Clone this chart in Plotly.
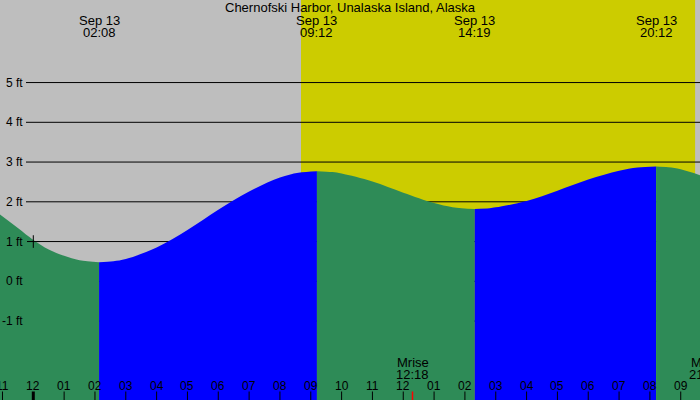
import plotly.graph_objects as go

# ---------------- data ----------------
title_text = "Chernofski Harbor, Unalaska Island, Alaska"

# visible window, hours after midnight of Sep 13, and feet
x_min, x_max = -1.08, 21.625
y_min, y_max = -2.986, 7.077

# tide curve, split at the extremes (hours, feet)
seg_falling_1_t = [-1.08, -0.5, 0.0, 0.5, 1.0, 1.5, 2.133]
seg_falling_1_v = [1.68, 1.34, 1.04, 0.80, 0.64, 0.53, 0.48]
seg_rising_1_t = [2.133, 2.6, 3.0, 4.0, 5.0, 6.0, 7.0, 8.0, 8.6, 9.2]
seg_rising_1_v = [0.48, 0.505, 0.56, 0.85, 1.29, 1.80, 2.26, 2.61, 2.73, 2.77]
seg_falling_2_t = [9.2, 9.7, 10.0, 11.0, 12.0, 13.0, 13.6, 14.317]
seg_falling_2_v = [2.77, 2.748, 2.71, 2.51, 2.23, 1.97, 1.865, 1.82]
seg_rising_2_t = [14.317, 14.8, 15.0, 16.0, 17.0, 18.0, 19.0, 19.6, 20.2]
seg_rising_2_v = [1.82, 1.838, 1.86, 2.02, 2.28, 2.56, 2.78, 2.863, 2.89]
seg_falling_3_t = [20.2, 20.6, 21.0, 21.625]
seg_falling_3_v = [2.89, 2.87, 2.82, 2.67]

# tide extremes labels
extreme_t = [2.133, 9.2, 14.317, 20.2]
extreme_date = ["Sep 13", "Sep 13", "Sep 13", "Sep 13"]
extreme_time = ["02:08", "09:12", "14:19", "20:12"]

# sun (day period)
sunrise_t = 8.683
sunset_t = 21.473

# moon events
moon_t = [12.3, 21.8]
moon_label = ["Mrise", "Mset"]
moon_time = ["12:18", "21:48"]

# hour ticks
hour_t = list(range(-1, 22))
hour_labels = ["11", "12", "01", "02", "03", "04", "05", "06", "07", "08", "09", "10",
               "11", "12", "01", "02", "03", "04", "05", "06", "07", "08", "09"]

# horizontal reference levels
level_ft = [-1, 0, 1, 2, 3, 4, 5]
level_labels = ["-1 ft", "0 ft", "1 ft", "2 ft", "3 ft", "4 ft", "5 ft"]

# marker
mark_t = [0.0]
mark_v = [1.0]

# ---------------- styles ----------------
W, H = 700, 400
NIGHT = "#BEBEBE"
DAY = "#CCCC00"
FALL = "#2E8B57"
RISE = "#0000FF"
FONT = "Liberation Sans, Arial, sans-serif"


def px(h):
    return (h - x_min) / (x_max - x_min)


def py(pix):
    return 1 - pix / H


fig = go.Figure()

segments = [
    (seg_falling_1_t, seg_falling_1_v, FALL),
    (seg_rising_1_t, seg_rising_1_v, RISE),
    (seg_falling_2_t, seg_falling_2_v, FALL),
    (seg_rising_2_t, seg_rising_2_v, RISE),
    (seg_falling_3_t, seg_falling_3_v, FALL),
]
for t, v, col in segments:
    fig.add_trace(go.Scatter(x=[t[0], t[-1]], y=[y_min - 1, y_min - 1], mode="lines",
                             line=dict(width=0, color=col), hoverinfo="skip", showlegend=False))
    fig.add_trace(go.Scatter(x=t, y=v, mode="lines", line=dict(width=0, color=col, shape="spline"),
                             fill="tonexty", fillcolor=col, hoverinfo="skip", showlegend=False))

fig.add_trace(go.Scatter(x=mark_t, y=mark_v, mode="markers",
                         marker=dict(symbol="cross-thin", size=9, line=dict(width=1, color="black")),
                         hoverinfo="skip", showlegend=False))

shapes = []
# day / night background
shapes.append(dict(type="rect", xref="x", yref="paper", x0=x_min, x1=sunrise_t, y0=0, y1=1,
                   fillcolor=NIGHT, line=dict(width=0), layer="below"))
shapes.append(dict(type="rect", xref="x", yref="paper", x0=sunrise_t, x1=sunset_t, y0=0, y1=1,
                   fillcolor=DAY, line=dict(width=0), layer="below"))
shapes.append(dict(type="rect", xref="x", yref="paper", x0=sunset_t, x1=x_max, y0=0, y1=1,
                   fillcolor=NIGHT, line=dict(width=0), layer="below"))
# level lines
for lv in level_ft:
    x_start = (37 if lv == 1 else 26) / W
    shapes.append(dict(type="line", xref="paper", yref="y", x0=x_start, x1=1, y0=lv, y1=lv,
                       line=dict(color="black", width=1), layer="below"))
# hour ticks
for h in hour_t:
    shapes.append(dict(type="line", xref="x", yref="paper", x0=h, x1=h, y0=0, y1=8.5 / H,
                       line=dict(color="black", width=3 if h == 0 else 1)))
# moon ticks
for m in moon_t:
    shapes.append(dict(type="line", xref="x", yref="paper", x0=m, x1=m, y0=0, y1=8.5 / H,
                       line=dict(color="red", width=1.5)))

ann = []
fnt = dict(family=FONT, size=13, color="black")
fnt_hour = dict(family=FONT, size=12, color="black")
ann.append(dict(text=title_text, xref="paper", yref="paper", x=0.5, y=py(7.5),
                xanchor="center", yanchor="middle", showarrow=False, font=fnt))
for t, d, tm in zip(extreme_t, extreme_date, extreme_time):
    ann.append(dict(text=d, xref="paper", yref="paper", x=px(t), y=py(20),
                    xanchor="center", yanchor="middle", showarrow=False, font=fnt))
    ann.append(dict(text=tm, xref="paper", yref="paper", x=px(t), y=py(32.5),
                    xanchor="center", yanchor="middle", showarrow=False, font=fnt))
for t, lab, tm in zip(moon_t, moon_label, moon_time):
    ann.append(dict(text=lab, xref="paper", yref="paper", x=px(t), y=py(362),
                    xanchor="center", yanchor="middle", showarrow=False, font=fnt))
    ann.append(dict(text=tm, xref="paper", yref="paper", x=px(t), y=py(374),
                    xanchor="center", yanchor="middle", showarrow=False, font=fnt))
for h, lab in zip(hour_t, hour_labels):
    ann.append(dict(text=lab, xref="paper", yref="paper", x=px(h), y=py(385.5),
                    xanchor="center", yanchor="middle", showarrow=False, font=fnt_hour))
for lv, lab in zip(level_ft, level_labels):
    ann.append(dict(text=lab, xref="paper", yref="y", x=25 / W, y=lv,
                    xanchor="right", yanchor="middle", showarrow=False, font=fnt_hour))

fig.update_layout(
    width=W, height=H,
    margin=dict(l=0, r=0, t=0, b=0),
    paper_bgcolor=NIGHT, plot_bgcolor=NIGHT,
    xaxis=dict(range=[x_min, x_max], showgrid=False, zeroline=False, showticklabels=False,
               ticks="", fixedrange=True),
    yaxis=dict(range=[y_min, y_max], showgrid=False, zeroline=False, showticklabels=False,
               ticks="", fixedrange=True),
    shapes=shapes, annotations=ann, showlegend=False,
)

fig.write_html("out.html", config={"displayModeBar": False},
               post_script="document.body.style.margin='0';document.body.style.padding='0';"
                           "document.body.style.overflow='hidden';")
